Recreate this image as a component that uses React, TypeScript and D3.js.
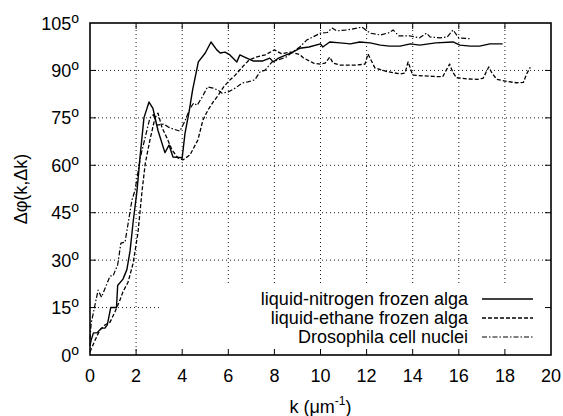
import React from "react";
import * as d3 from "d3";

// [k (1/um), delta phi (deg)]
const nitrogenAlga: [number, number][] = [
  [0, 3], [0.05, 4.7], [0.15, 7], [0.3, 7], [0.5, 8.5], [0.65, 8.5], [0.75, 9.5], [0.9, 15],
  [1.15, 15], [1.2, 22], [1.43, 24], [1.6, 27], [1.74, 33], [1.87, 42], [2.04, 52], [2.17, 62.6],
  [2.34, 75], [2.56, 80], [2.73, 78], [2.95, 71], [3.25, 64], [3.43, 66.4], [3.6, 62.6], [4.0, 62.4],
  [4.12, 70], [4.3, 77], [4.45, 83.8], [4.7, 92.7], [5.0, 95.5], [5.25, 99], [5.5, 96.5], [5.65, 95.5],
  [5.86, 95.8], [6.07, 94.9], [6.37, 92.7], [6.5, 94.9], [6.8, 93.9], [7.07, 93], [7.5, 93], [7.8, 93.9],
  [7.95, 92.7], [8.2, 94], [8.7, 95.5], [9.1, 97], [9.5, 97.4], [10.0, 98.4], [10.1, 97.4], [10.4, 99],
  [10.85, 98.7], [11.3, 98.4], [11.7, 99], [12.15, 98.7], [12.6, 98], [13.0, 97.7], [13.45, 97.7],
  [13.9, 98.4], [14.3, 98], [15.0, 98.7], [15.75, 99], [16.05, 98], [16.5, 97.7], [16.9, 97.7],
  [17.35, 98.4], [17.9, 98.4],
];

const ethaneAlga: [number, number][] = [
  [0, 1], [0.22, 4.7], [0.43, 7.9], [0.65, 9.5], [0.87, 10.4], [1.08, 13.6], [1.3, 17.4], [1.43, 20],
  [1.65, 23], [1.87, 29], [2.08, 38.6], [2.26, 52], [2.4, 60.7], [2.6, 68], [2.82, 75], [2.95, 76.5],
  [3.12, 72], [3.34, 68.6], [3.56, 64.8], [3.82, 62.3], [4.03, 61.7], [4.34, 63.3], [4.68, 68],
  [4.9, 74.3], [5.12, 77.5], [5.34, 80], [5.55, 82], [5.8, 84.8], [6.07, 87], [6.3, 88.5], [6.6, 91],
  [6.9, 93.3], [7.2, 94.2], [7.6, 94.9], [8.0, 96.5], [8.3, 95.3], [8.7, 95.8], [9.1, 95], [9.25, 94],
  [9.7, 92.3], [10.0, 92], [10.2, 92.3], [10.4, 94.2], [10.55, 92.3], [10.85, 91.7], [11.58, 91.7],
  [11.93, 92], [12.06, 95.2], [12.36, 90.8], [12.9, 89.6], [13.45, 88.9], [13.67, 89.2], [13.8, 92.7],
  [14.0, 88.5], [14.45, 88.3], [14.9, 88.1], [15.3, 88], [15.45, 90], [15.6, 92], [15.75, 89.3],
  [15.9, 87.7], [16.35, 87.3], [16.8, 87.2], [17.05, 87.5], [17.3, 91.1], [17.45, 89], [17.65, 87.2],
  [18.1, 86.5], [18.5, 86.1], [18.8, 86.2], [18.95, 89], [19.1, 91],
];

const drosophila: [number, number][] = [
  [0, 5], [0.05, 10], [0.35, 20.5], [0.5, 18.3], [0.87, 25], [1.0, 25], [1.2, 28.5], [1.34, 35.4],
  [1.52, 35.7], [1.82, 49], [1.95, 52], [2.2, 63], [2.6, 75], [2.75, 76], [2.9, 72.7], [3.2, 73],
  [3.47, 71.8], [3.9, 70.8], [4.1, 73.7], [4.34, 78], [4.5, 79.7], [4.65, 79], [4.87, 81.6], [5.1, 84.8],
  [5.34, 84.4], [5.55, 83.8], [5.73, 82.8], [6.0, 83.2], [6.3, 84.4], [6.6, 86], [6.85, 86.4],
  [7.15, 87], [7.37, 89.5], [7.6, 90.1], [7.9, 92.7], [8.15, 93.3], [8.5, 94.2], [8.8, 95.8],
  [9.1, 97.4], [9.4, 99.6], [10.0, 101.8], [10.3, 102], [10.5, 103.4], [10.7, 102.5], [11.15, 102.8],
  [11.6, 103.4], [11.8, 103.7], [12.15, 101.8], [12.6, 101.2], [13.0, 102], [13.15, 102.8],
  [13.4, 100.9], [13.9, 100.9], [14.3, 100.3], [14.6, 101.8], [14.75, 100.6], [15.2, 100.3],
  [15.5, 100.6], [15.75, 102.8], [16.0, 100.3], [16.5, 100],
];

const xTicks = [0, 2, 4, 6, 8, 10, 12, 14, 16, 18, 20];
const yTicks = [0, 15, 30, 45, 60, 75, 90, 105];
const seriesNames = [
  "liquid-nitrogen frozen alga",
  "liquid-ethane frozen alga",
  "Drosophila cell nuclei",
];

const W = 563;
const H = 416;
const margin = { top: 23, right: 12, bottom: 61, left: 90 };
const FONT = "'Liberation Sans', Arial, Helvetica, sans-serif";

export default function App() {
  const x = d3.scaleLinear().domain([0, 20]).range([margin.left, W - margin.right]);
  const y = d3.scaleLinear().domain([0, 105]).range([H - margin.bottom, margin.top]);
  const line = d3
    .line<[number, number]>()
    .x((d) => x(d[0]))
    .y((d) => y(d[1]));

  const series = [
    { data: nitrogenAlga, dash: undefined as string | undefined, width: 1.4 },
    { data: ethaneAlga, dash: "4,2", width: 1.3 },
    { data: drosophila, dash: "5,2,1.5,2", width: 1.2 },
  ];

  const x0 = x(0);
  const x1 = x(20);
  const y0 = y(0);
  const y1 = y(105);
  const tick = 6;

  // legend box sits over the grid
  const legend = { left: 162, top: 283, textRight: 468, sx0: 482, sx1: 533 };
  const legendRows = [299, 318, 337];

  return (
    <svg
      width={W}
      height={H}
      style={{ position: "absolute", left: 0, top: 0, background: "#fff" }}
      fontFamily={FONT}
    >
      <rect width={W} height={H} fill="#fff" />

      {/* grid */}
      <g stroke="#000" strokeWidth={0.9} strokeDasharray="1,3">
        {xTicks.slice(1, -1).map((t) => (
          <line key={"gx" + t} x1={x(t)} x2={x(t)} y1={y0} y2={y1} />
        ))}
        {yTicks.slice(1, -1).map((t) => (
          <line key={"gy" + t} x1={x0} x2={x1} y1={y(t)} y2={y(t)} />
        ))}
      </g>

      {/* data */}
      {series.map((s, i) => (
        <path
          key={i}
          d={line(s.data) || ""}
          fill="none"
          stroke="#000"
          strokeWidth={s.width}
          strokeDasharray={s.dash}
          strokeLinejoin="round"
        />
      ))}

      {/* legend */}
      <rect
        x={legend.left}
        y={legend.top}
        width={x1 - legend.left - 1}
        height={y0 - legend.top - 1}
        fill="#fff"
      />
      {seriesNames.map((name, i) => (
        <g key={name}>
          <text
            x={legend.textRight}
            y={legendRows[i] + 6}
            textAnchor="end"
            fontSize={18}
            fill="#000"
          >
            {name}
          </text>
          <line
            x1={legend.sx0}
            x2={legend.sx1}
            y1={legendRows[i]}
            y2={legendRows[i]}
            stroke="#000"
            strokeWidth={series[i].width}
            strokeDasharray={series[i].dash}
          />
        </g>
      ))}

      {/* ticks */}
      <g stroke="#000" strokeWidth={1}>
        {xTicks.slice(1, -1).map((t) => (
          <g key={"tx" + t}>
            <line x1={x(t)} x2={x(t)} y1={y0} y2={y0 - tick} />
            <line x1={x(t)} x2={x(t)} y1={y1} y2={y1 + tick} />
          </g>
        ))}
        {yTicks.slice(1, -1).map((t) => (
          <g key={"ty" + t}>
            <line x1={x0} x2={x0 + tick} y1={y(t)} y2={y(t)} />
            <line x1={x1} x2={x1 - tick} y1={y(t)} y2={y(t)} />
          </g>
        ))}
      </g>

      {/* frame */}
      <rect
        x={x0}
        y={y1}
        width={x1 - x0}
        height={y0 - y1}
        fill="none"
        stroke="#000"
        strokeWidth={1.6}
      />

      {/* tick labels */}
      {yTicks.map((t) => (
        <text key={"ly" + t} x={79} y={y(t) + 6.5} textAnchor="end" fontSize={18} fill="#000">
          {t}
          <tspan fontSize={14} dy={-7}>o</tspan>
        </text>
      ))}
      {xTicks.map((t) => (
        <text key={"lx" + t} x={x(t)} y={382} textAnchor="middle" fontSize={18} fill="#000">
          {t}
        </text>
      ))}

      {/* axis titles */}
      <text x={(x0 + x1) / 2} y={413} textAnchor="middle" fontSize={18} fill="#000">
        k (μm
        <tspan fontSize={12} dy={-8}>-1</tspan>
        <tspan dy={8}>)</tspan>
      </text>
      <text
        transform={`translate(27, ${(y0 + y1) / 2}) rotate(-90)`}
        textAnchor="middle"
        fontSize={18}
        fill="#000"
      >
        Δφ(k,Δk)
      </text>
    </svg>
  );
}
